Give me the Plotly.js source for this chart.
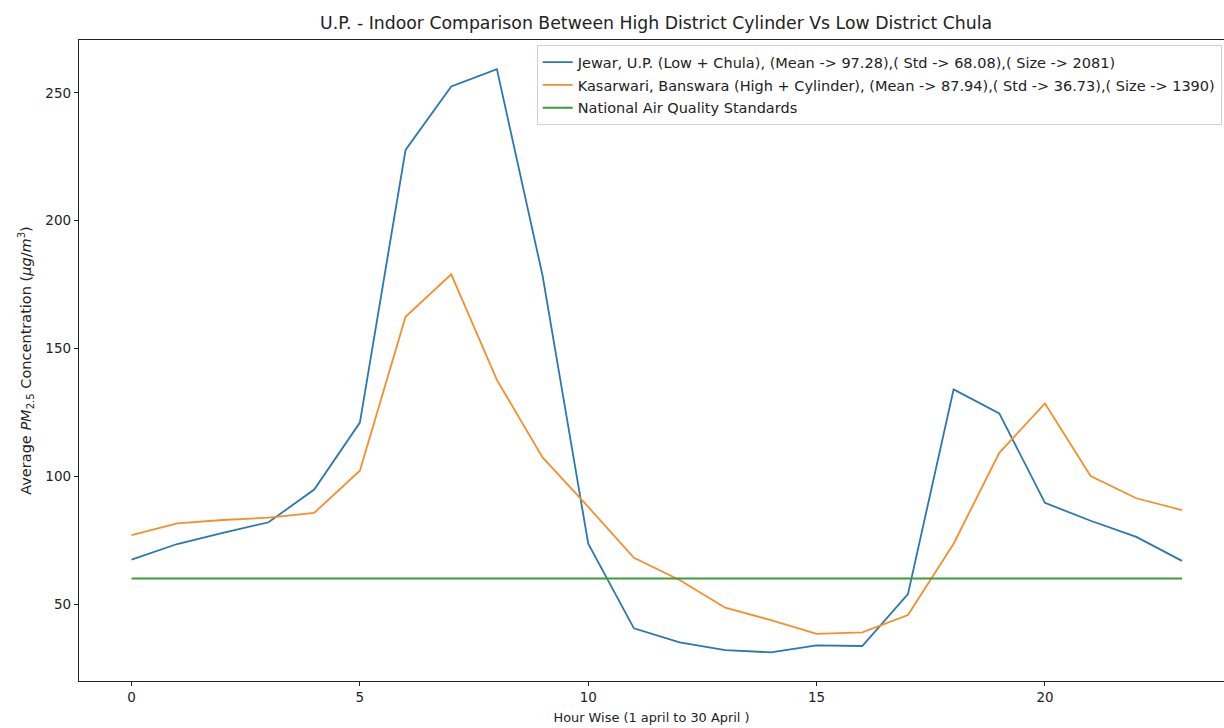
<!DOCTYPE html>
<html>
<head>
<meta charset="utf-8">
<script src="https://cdn.plot.ly/plotly-3.0.1.min.js"></script>
<style>html,body{margin:0;padding:0;background:#fff;}#chart{width:1224px;height:728px;}</style>
</head>
<body>
<div id="chart"></div>
<script>
var hours = [0,1,2,3,4,5,6,7,8,9,10,11,12,13,14,15,16,17,18,19,20,21,22,23];
var jewar = [67.4,73.5,77.9,82.0,94.8,121.0,227.7,252.5,259.3,178.5,73.6,40.5,35.0,32.0,31.1,33.8,33.6,53.9,134.0,124.6,89.6,82.6,76.3,66.9];
var kasarwari = [77.0,81.6,82.9,83.8,85.7,102.2,162.4,179.0,137.7,107.4,88.0,68.1,59.4,48.6,43.7,38.3,38.9,45.7,73.6,109.2,128.5,100.1,91.4,86.8];
var standard = [60,60,60,60,60,60,60,60,60,60,60,60,60,60,60,60,60,60,60,60,60,60,60,60];
var names = [
  "Jewar, U.P. (Low + Chula), (Mean -> 97.28),( Std -> 68.08),( Size -> 2081)",
  "Kasarwari, Banswara (High + Cylinder), (Mean -> 87.94),( Std -> 36.73),( Size -> 1390)",
  "National Air Quality Standards"
];
var colors = ["#2a78ad", "#f68f2a", "#3d9a3d"];
var series = [jewar, kasarwari, standard];
var traces = series.map(function(s, i){
  return {x: hours, y: s, type: "scatter", mode: "lines", name: names[i], legendgroup: "g" + i,
          line: {color: colors[i], width: 1.8}};
});
var fam = "DejaVu Sans, sans-serif";
var tickFont = {family: fam, size: 13.5, color: "#222"};
var layout = {
  width: 1224, height: 728,
  margin: {l: 79, r: 0, t: 40, b: 47},
  paper_bgcolor: "#fff", plot_bgcolor: "#fff",
  font: tickFont,
  showlegend: true,
  title: {text: "U.P. - Indoor Comparison Between High District Cylinder Vs Low District Chula",
          font: {family: fam, size: 17.3, color: "#222"},
          x: 0.504, xref: "paper", xanchor: "center", y: 0.969, yref: "container", yanchor: "middle"},
  xaxis: {
    range: [-1.15, 23.92], tickmode: "array", tickvals: [0,5,10,15,20], ticktext: ["0","5","10","15","20"],
    ticks: "outside", ticklen: 4, tickcolor: "#222", showgrid: false, zeroline: false,
    showline: true, linecolor: "#222", linewidth: 1.2, mirror: true, tickfont: tickFont,
    title: {text: "Hour Wise (1 april to 30 April )", font: {family: fam, size: 12.9, color: "#222"}, standoff: 8}
  },
  yaxis: {
    range: [19.9, 270.7], tickmode: "array", tickvals: [50,100,150,200,250], ticktext: ["50","100","150","200","250"],
    ticks: "outside", ticklen: 4, tickcolor: "#222", showgrid: false, zeroline: false,
    showline: true, linecolor: "#222", linewidth: 1.2, tickfont: tickFont,
    title: {text: "Average <i>PM</i><sub>2.5</sub> Concentration (<i>μg</i>/<i>m</i><sup>3</sup>)", font: {family: fam, size: 14.5, color: "#222"}, standoff: 10}
  },
  legend: {x: 0.998, xanchor: "right", y: 0.992, yanchor: "top", bgcolor: "rgba(255,255,255,0.85)",
           bordercolor: "#d0d0d0", borderwidth: 1, font: {family: fam, size: 14.5, color: "#222"},
           tracegroupgap: 1, itemwidth: 30}
};
Plotly.newPlot("chart", traces, layout, {displayModeBar: false, staticPlot: true});
</script>
</body>
</html>
